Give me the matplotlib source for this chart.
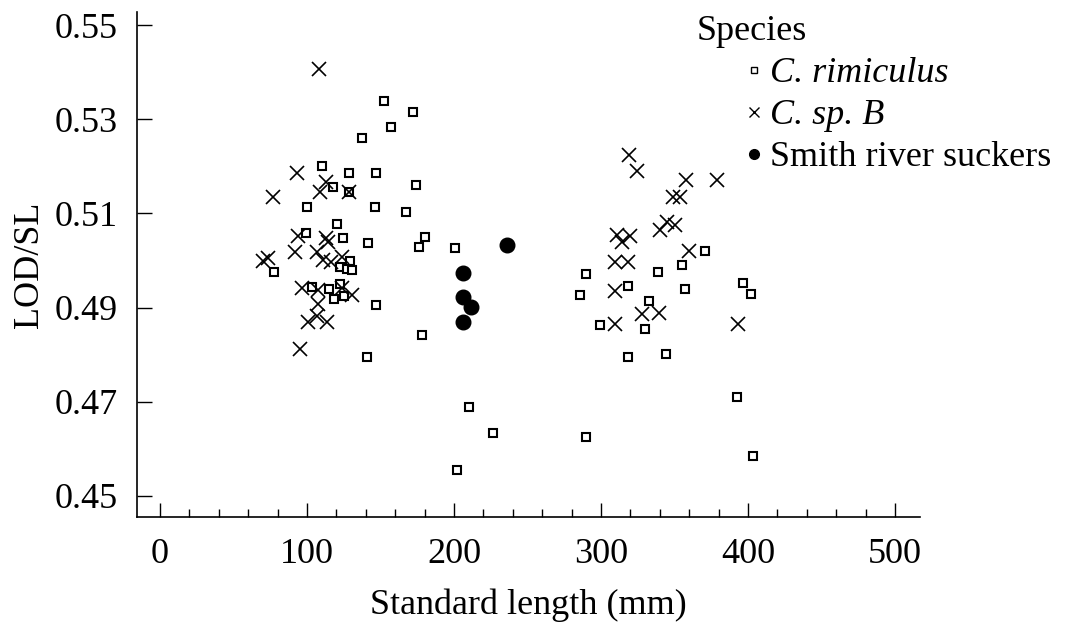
import matplotlib
matplotlib.use("Agg")
import matplotlib.pyplot as plt
from matplotlib.lines import Line2D
from matplotlib.ticker import MultipleLocator

plt.rcParams["font.family"] = ["Liberation Serif", "DejaVu Serif"]

# C. rimiculus
rim_sl = [152.4, 171.9, 156.9, 137.6, 109.9, 128.8, 146.9, 173.9, 117.5, 128.6,
          100.1, 146.1, 167.3, 120.4, 99.1, 124.7, 141.8, 180.5, 176.3, 200.8,
          77.6, 129.0, 122.4, 127.2, 130.4, 103.2, 115.0, 122.4, 118.4, 124.9,
          147.1, 178.2, 140.8,
          210.4, 226.5, 202.0,
          289.8, 285.5, 289.8, 370.9, 339.0, 355.3, 318.6, 357.1, 396.4, 402.0,
          332.7, 299.3, 329.7, 318.6, 344.2, 392.7, 403.4]
rim_ratio = [0.5338, 0.5315, 0.5283, 0.5261, 0.5201, 0.5186, 0.5186, 0.5160, 0.5157, 0.5145,
             0.5113, 0.5113, 0.5103, 0.5077, 0.5059, 0.5047, 0.5037, 0.5049, 0.5029, 0.5026,
             0.4976, 0.5000, 0.4986, 0.4983, 0.4980, 0.4943, 0.4939, 0.4950, 0.4919, 0.4924,
             0.4906, 0.4842, 0.4796,
             0.4688, 0.4634, 0.4554,
             0.4972, 0.4926, 0.4625, 0.5020, 0.4976, 0.4990, 0.4946, 0.4939, 0.4952, 0.4928,
             0.4913, 0.4862, 0.4855, 0.4795, 0.4802, 0.4711, 0.4585]

# C. sp. B
spb_sl = [108.2, 93.0, 112.9, 109.2, 128.6, 76.7, 93.7, 112.9, 114.1, 91.8,
          106.7, 73.7, 70.4, 111.1, 116.3, 123.8, 96.4, 107.7, 124.0, 130.6,
          107.8, 107.1, 100.7, 113.9, 95.2,
          319.3, 324.7, 357.8, 379.1, 349.3, 353.9, 344.6, 350.3, 339.9, 310.7,
          319.9, 314.1, 360.1, 309.5, 318.6, 309.5, 327.7, 339.7, 309.5, 393.4]
spb_ratio = [0.5408, 0.5186, 0.5167, 0.5146, 0.5145, 0.5134, 0.5053, 0.5047, 0.5040, 0.5019,
             0.5019, 0.5005, 0.4998, 0.5001, 0.4997, 0.5008, 0.4941, 0.4937, 0.4941, 0.4927,
             0.4908, 0.4882, 0.4869, 0.4869, 0.4811,
             0.5224, 0.5190, 0.5172, 0.5172, 0.5135, 0.5135, 0.5081, 0.5076, 0.5065, 0.5055,
             0.5053, 0.5039, 0.5020, 0.4997, 0.4997, 0.4936, 0.4886, 0.4889, 0.4866, 0.4865]

# Smith river suckers
smith_sl = [236.3, 206.3, 206.3, 211.6, 206.3]
smith_ratio = [0.5033, 0.4973, 0.4922, 0.4902, 0.4869]

labels = ["C. rimiculus", "C. sp. B", "Smith river suckers"]

fs = 26

fig = plt.figure(figsize=(10.73, 6.27), dpi=100)
ax = fig.add_axes([0.1277, 0.1754, 0.7297, 0.8054])

ax.plot(rim_sl, rim_ratio, linestyle="none", marker="s", markersize=6,
        markerfacecolor="white", markeredgecolor="black", markeredgewidth=1.5)
ax.plot(spb_sl, spb_ratio, linestyle="none", marker="x", markersize=10.5,
        color="black", markeredgewidth=1.2)
ax.plot(smith_sl, smith_ratio, linestyle="none", marker="o", markersize=10.5,
        color="black")

ax.set_xlim(-15.6, 517)
ax.set_ylim(0.4455, 0.5528)

ax.spines["top"].set_visible(False)
ax.spines["right"].set_visible(False)
ax.spines["left"].set_linewidth(1.2)
ax.spines["bottom"].set_linewidth(1.2)

ax.xaxis.set_major_locator(MultipleLocator(100))
ax.xaxis.set_minor_locator(MultipleLocator(20))
ax.set_yticks([0.45, 0.47, 0.49, 0.51, 0.53, 0.55])
ax.set_yticklabels(["0.45", "0.47", "0.49", "0.51", "0.53", "0.55"])
ax.tick_params(axis="x", which="major", direction="in", length=10, width=1.0,
               labelsize=fs, pad=15)
ax.tick_params(axis="x", which="minor", direction="in", length=6, width=1.0)
ax.tick_params(axis="y", which="major", direction="in", length=11, width=1.0,
               labelsize=fs, pad=14)

ax.set_xlabel("Standard length (mm)", fontsize=fs, labelpad=13)
ax.set_ylabel("LOD/SL", fontsize=fs)
ax.yaxis.set_label_coords(-0.116, 0.5)

handles = [
    Line2D([], [], linestyle="none", marker="s", markersize=5,
           markerfacecolor="white", markeredgecolor="black", markeredgewidth=1.0),
    Line2D([], [], linestyle="none", marker="x", markersize=6.5,
           color="black", markeredgewidth=1.0),
    Line2D([], [], linestyle="none", marker="o", markersize=7, color="black"),
]
leg = fig.legend(handles, labels, loc="upper left", bbox_to_anchor=(0.6925, 0.909),
                 frameon=False, fontsize=fs, handlelength=0.6, handletextpad=0.15,
                 labelspacing=0.24, borderaxespad=0, borderpad=0)
leg.get_texts()[0].set_fontstyle("italic")
leg.get_texts()[1].set_fontstyle("italic")
fig.text(0.649, 0.949, "Species", fontsize=fs, ha="left", va="center")

fig.savefig("out.png", dpi=100)
